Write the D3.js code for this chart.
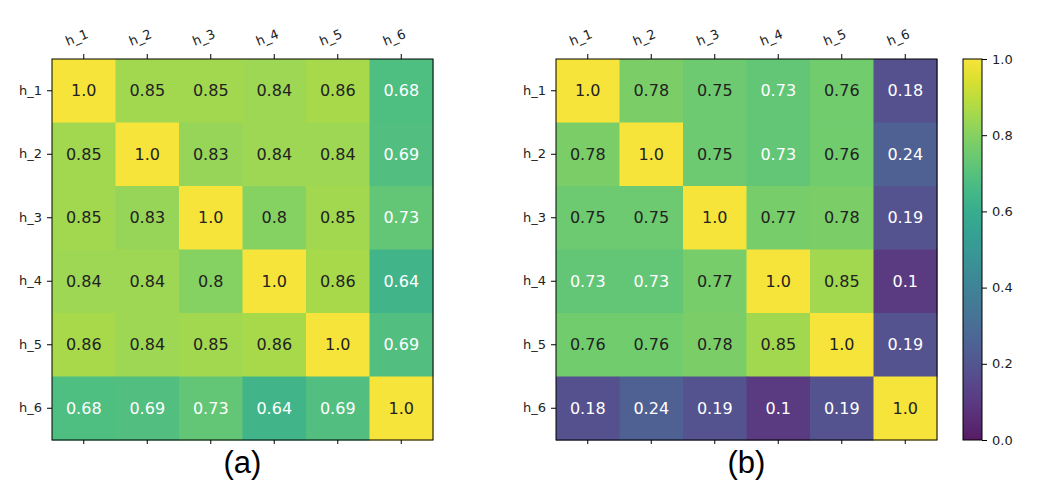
<!DOCTYPE html>
<html>
<head>
<meta charset="utf-8">
<script src="https://cdn.jsdelivr.net/npm/d3@7"></script>
<style>
  body { margin: 0; background: #fff; }
  text { font-family: "DejaVu Sans", sans-serif; }
</style>
</head>
<body>
<svg id="chart"></svg>
<script>
const labels = ["h_1", "h_2", "h_3", "h_4", "h_5", "h_6"];

const matrixA = [
    [1.0, 0.85, 0.85, 0.84, 0.86, 0.68],
    [0.85, 1.0, 0.83, 0.84, 0.84, 0.69],
    [0.85, 0.83, 1.0, 0.8, 0.85, 0.73],
    [0.84, 0.84, 0.8, 1.0, 0.86, 0.64],
    [0.86, 0.84, 0.85, 0.86, 1.0, 0.69],
    [0.68, 0.69, 0.73, 0.64, 0.69, 1.0]
];

const matrixB = [
    [1.0, 0.78, 0.75, 0.73, 0.76, 0.18],
    [0.78, 1.0, 0.75, 0.73, 0.76, 0.24],
    [0.75, 0.75, 1.0, 0.77, 0.78, 0.19],
    [0.73, 0.73, 0.77, 1.0, 0.85, 0.1],
    [0.76, 0.76, 0.78, 0.85, 1.0, 0.19],
    [0.18, 0.24, 0.19, 0.1, 0.19, 1.0]
];

const captions = ["(a)", "(b)"];
const colorTicks = [0.0, 0.2, 0.4, 0.6, 0.8, 1.0];

const svgWidth = 1042, svgHeight = 488;

const svg = d3.select('#chart')
    .attr("width", svgWidth)
    .attr("height", svgHeight);

// viridis, a little muted like the reference image
const color = v => d3.interpolateRgb(d3.interpolateViridis(v), "#cfcfcf")(0.13);

const size = 381, plotTop = 59;
const panels = [
    {x: 52, data: matrixA, caption: captions[0]},
    {x: 556, data: matrixB, caption: captions[1]}
];

panels.forEach(p => {
    const g = svg.append("g").attr("transform", `translate(${p.x},${plotTop})`);

    const x = d3.scaleBand().domain(labels).range([0, size]);
    const y = d3.scaleBand().domain(labels).range([0, size]);

    const cells = [];
    p.data.forEach((row, i) => row.forEach((v, j) => cells.push({r: labels[i], c: labels[j], v: v})));

    g.selectAll("rect.cell")
        .data(cells)
        .enter()
        .append("rect")
        .attr("class", "cell")
        .attr("x", d => x(d.c))
        .attr("y", d => y(d.r))
        .attr("width", x.bandwidth() + 0.5)
        .attr("height", y.bandwidth() + 0.5)
        .attr("fill", d => color(d.v));

    g.selectAll("text.val")
        .data(cells)
        .enter()
        .append("text")
        .attr("class", "val")
        .attr("x", d => x(d.c) + x.bandwidth() / 2)
        .attr("y", d => y(d.r) + y.bandwidth() / 2)
        .attr("text-anchor", "middle")
        .attr("dominant-baseline", "central")
        .style("font-size", "16px")
        .style("fill", d => d.v < 0.745 ? "#fff" : "#222")
        .text(d => d.v === 1 ? "1.0" : String(d.v));

    // top axis with rotated labels
    const topAxis = g.append("g")
        .call(d3.axisTop(x).tickSize(5).tickPadding(4));
    topAxis.select(".domain").remove();
    topAxis.selectAll("text")
        .style("font-size", "13px")
        .style("fill", "#222")
        .attr("text-anchor", "middle")
        .attr("transform", "translate(-2,-9) rotate(-22)");

    // bottom ticks without labels
    const bottomAxis = g.append("g")
        .attr("transform", `translate(0,${size})`)
        .call(d3.axisBottom(x).tickSize(4).tickFormat(""));
    bottomAxis.select(".domain").remove();

    const leftAxis = g.append("g")
        .call(d3.axisLeft(y).tickSize(5).tickPadding(5));
    leftAxis.select(".domain").remove();
    leftAxis.selectAll("text").style("font-size", "13px").style("fill", "#222");

    g.append("rect")
        .attr("width", size)
        .attr("height", size)
        .attr("fill", "none")
        .attr("stroke", "#000")
        .attr("stroke-width", 1);

    svg.append("text")
        .attr("x", p.x + size / 2)
        .attr("y", 473)
        .attr("text-anchor", "middle")
        .style("font-family", "'Liberation Sans', Arial, sans-serif")
        .style("font-size", "31px")
        .text(p.caption);
});

// colorbar
const cbX = 963, cbW = 19;
const defs = svg.append("defs");
const grad = defs.append("linearGradient")
    .attr("id", "viridis")
    .attr("x1", "0%").attr("y1", "100%")
    .attr("x2", "0%").attr("y2", "0%");
d3.range(0, 1.0001, 0.05).forEach(t => {
    grad.append("stop")
        .attr("offset", (t * 100) + "%")
        .attr("stop-color", color(t));
});

const cbScale = d3.scaleLinear().domain([0, 1]).range([plotTop + size, plotTop]);

svg.append("rect")
    .attr("x", cbX)
    .attr("y", plotTop)
    .attr("width", cbW)
    .attr("height", size)
    .attr("fill", "url(#viridis)")
    .attr("stroke", "#000")
    .attr("stroke-width", 1);

const cbAxis = svg.append("g")
    .attr("transform", `translate(${cbX + cbW},0)`)
    .call(d3.axisRight(cbScale).tickValues(colorTicks).tickSize(5).tickPadding(5).tickFormat(d3.format(".1f")));
cbAxis.select(".domain").remove();
cbAxis.selectAll("text").style("font-size", "13px").style("fill", "#222");
</script>
</body>
</html>
